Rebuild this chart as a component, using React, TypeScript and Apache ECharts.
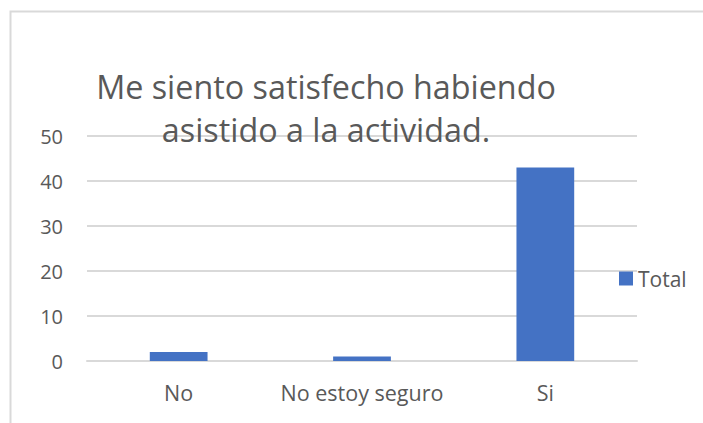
import React, { useEffect, useRef } from "react";
import * as echarts from "echarts";

const categories = ["No", "No estoy seguro", "Si"];
const totals = [2, 1, 43];
const yTicks = { min: 0, max: 50, interval: 10 };
const titleLines = ["Me siento satisfecho habiendo", "asistido a la actividad."];
const seriesName = "Total";

const FONT = "'Open Sans', sans-serif";
const TXT = "#595959";

export default function App() {
  const ref = useRef<HTMLDivElement>(null);
  useEffect(() => {
    document.body.style.margin = "0";
    const chart = echarts.init(ref.current!, null, { renderer: "svg" });
    chart.setOption({
      animation: false,
      backgroundColor: "#ffffff",
      textStyle: { fontFamily: FONT },
      graphic: [
        {
          type: "rect",
          shape: { x: 10.5, y: 11.5, width: 720, height: 430 },
          style: { fill: "none", stroke: "#d9d9d9", lineWidth: 2 },
          silent: true,
          z: -1,
        },
      ],
      title: {
        text: titleLines.join("\n"),
        left: 321,
        textAlign: "center",
        top: 60,
        padding: 5,
        textStyle: {
          fontFamily: FONT,
          fontSize: 32.3,
          fontWeight: "normal",
          color: TXT,
          lineHeight: 42.5,
        },
      },
      legend: {
        orient: "vertical",
        left: 619,
        top: 268,
        padding: 0,
        itemWidth: 14,
        itemHeight: 14,
        itemGap: 4,
        icon: "rect",
        textStyle: { fontFamily: FONT, fontSize: 21, color: TXT },
        data: [seriesName],
      },
      grid: { left: 87, right: 66, top: 136, bottom: 62 },
      xAxis: {
        type: "category",
        data: categories,
        axisLine: { show: true, lineStyle: { color: "#d9d9d9", width: 2 } },
        axisTick: { show: false },
        axisLabel: {
          fontFamily: FONT,
          fontSize: 21.5,
          color: TXT,
          margin: 20,
          interval: 0,
          hideOverlap: false,
        },
      },
      yAxis: {
        type: "value",
        min: yTicks.min,
        max: yTicks.max,
        interval: yTicks.interval,
        axisLine: { show: false },
        axisTick: { show: false },
        axisLabel: { fontFamily: FONT, fontSize: 20, color: TXT, margin: 24 },
        splitLine: { lineStyle: { color: "#d9d9d9", width: 2 } },
      },
      series: [
        {
          name: seriesName,
          type: "bar",
          data: totals,
          barWidth: "31.5%",
          itemStyle: { color: "#4472c4" },
        },
      ],
    });
    return () => chart.dispose();
  }, []);
  return (
    <div
      ref={ref}
      style={{ position: "fixed", left: 0, top: 0, width: 703, height: 423 }}
    />
  );
}
